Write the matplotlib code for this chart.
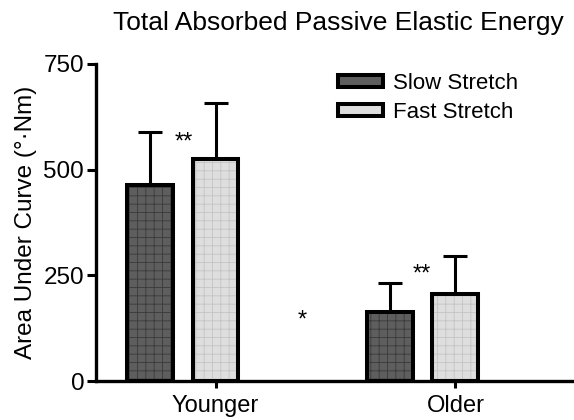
import matplotlib
matplotlib.use("Agg")
import matplotlib.pyplot as plt
import numpy as np
from matplotlib.patches import Patch

plt.rcParams['font.family'] = ['Liberation Sans', 'DejaVu Sans']
plt.rcParams['hatch.linewidth'] = 0.6

groups = ["Younger", "Older"]
series = ["Slow Stretch", "Fast Stretch"]
slow_mean = [464, 163]
slow_sd = [125, 69]
fast_mean = [525, 206]
fast_sd = [133, 90]
colors = ["#5e5e5e", "#dedede"]
hatch_colors = ["#3a3a3a", "#c4c4c4"]

fig = plt.figure(figsize=(5.74, 4.20), dpi=100)
ax = fig.add_axes([96/574, 39/420, (574-96)/574, (381-64)/420])

gspace = 3.66
bw = 0.70
gx = np.arange(len(groups)) * gspace
lw = 2.9
for k, (m, s) in enumerate([(slow_mean, slow_sd), (fast_mean, fast_sd)]):
    xs = gx + k
    ax.bar(xs, m, width=bw, color=colors[k], edgecolor=hatch_colors[k], linewidth=0,
           hatch='++', zorder=3)
    ax.bar(xs, m, width=bw, fill=False, edgecolor='black', linewidth=lw, zorder=4)
    ax.errorbar(xs, m, yerr=[np.zeros(len(m)), s], fmt='none', ecolor='black',
                elinewidth=2.2, capsize=8.5, capthick=2.2, zorder=2)

ax.set_xlim(-0.824, 6.47)
ax.set_ylim(0, 750)
ax.set_yticks([0, 250, 500, 750])
ax.set_xticks(gx + 1)
ax.set_xticklabels(groups, fontsize=17)
ax.tick_params(axis='y', labelsize=17.5, width=2.2, length=6.5, pad=2)
ax.tick_params(axis='x', width=2.2, length=5, pad=5)
for sp in ['top', 'right']:
    ax.spines[sp].set_visible(False)
for sp in ['left', 'bottom']:
    ax.spines[sp].set_linewidth(2.4)
ax.set_ylabel("Area Under Curve (°·Nm)", fontsize=17.5, labelpad=5)

# significance marks
ax.text(0.52, 565, "**", ha='center', va='center', fontsize=17)
ax.text(2.33, 143, "*", ha='center', va='center', fontsize=17)
ax.text(gspace + 0.48, 252, "**", ha='center', va='center', fontsize=17)

fig.text(0.59, 0.945, "Total Absorbed Passive Elastic Energy", ha='center', va='center', fontsize=19)

handles = [Patch(facecolor=colors[k], edgecolor='black', linewidth=2.9) for k in range(2)]
leg = ax.legend(handles, series, loc='upper left', bbox_to_anchor=(0.465, 1.035), frameon=False,
                fontsize=16, handlelength=2.0, handleheight=0.45, labelspacing=0.35,
                handletextpad=0.45)

fig.savefig("out.png", dpi=100)
